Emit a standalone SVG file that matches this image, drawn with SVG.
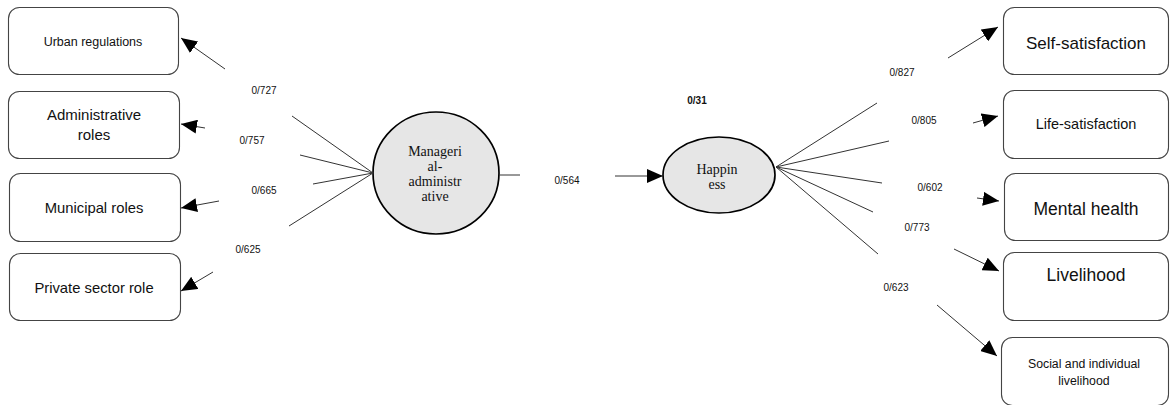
<svg xmlns="http://www.w3.org/2000/svg" width="1170" height="405" viewBox="0 0 1170 405">
<style>
.box{fill:#fff;stroke:#444;stroke-width:1.1}
.bt{font-family:"Liberation Sans",Arial,sans-serif;fill:#111;text-anchor:middle}
.lbl{font-family:"Liberation Sans",Arial,sans-serif;font-size:10px;fill:#111;text-anchor:middle}
.st{font-family:"Liberation Serif","Times New Roman",serif;font-size:14px;fill:#111;text-anchor:middle}
.ln{stroke:#333;stroke-width:1;fill:none}
.ar{stroke:#333;stroke-width:1;fill:none;marker-end:url(#ah)}
.ell{fill:#e6e6e6;stroke:#000;stroke-width:1.7}
</style>
<defs>
<marker id="ah" markerUnits="userSpaceOnUse" markerWidth="18" markerHeight="14" refX="16" refY="7" orient="auto">
<path d="M0,0 L16,7 L0,14 Z" fill="#000"/>
</marker>
</defs>
<rect width="1170" height="405" fill="#fff"/>
<g id="n-urban"><rect class="box" x="8.5" y="7.5" width="170" height="67" rx="11"/><text class="bt" x="93" y="46" font-size="12.5">Urban regulations</text></g>
<g id="n-admin"><rect class="box" x="8.5" y="91.5" width="171" height="67" rx="11"/><text class="bt" x="94" y="120" font-size="15">Administrative</text><text class="bt" x="94" y="140" font-size="15">roles</text></g>
<g id="n-municipal"><rect class="box" x="9.5" y="173.5" width="171" height="68" rx="11"/><text class="bt" x="94" y="213" font-size="14.8">Municipal roles</text></g>
<g id="n-private"><rect class="box" x="9.5" y="253.5" width="171" height="67" rx="11"/><text class="bt" x="94" y="293" font-size="14.8">Private sector role</text></g>
<g id="n-managerial"><ellipse class="ell" cx="436" cy="173" rx="63" ry="61"/><text class="st" x="435" y="156">Manageri</text><text class="st" x="435" y="171">al-</text><text class="st" x="435" y="186">administr</text><text class="st" x="435" y="201">ative</text></g>
<g id="n-happiness"><ellipse class="ell" cx="719" cy="175" rx="56" ry="38"/><text class="st" x="717" y="174">Happin</text><text class="st" x="717" y="189">ess</text></g>
<g id="n-self"><rect class="box" x="1003.5" y="7.5" width="165" height="67" rx="11"/><text class="bt" x="1086" y="49" font-size="17">Self-satisfaction</text></g>
<g id="n-life"><rect class="box" x="1003.5" y="90.5" width="165" height="68" rx="11"/><text class="bt" x="1086" y="129" font-size="14.5">Life-satisfaction</text></g>
<g id="n-mental"><rect class="box" x="1004.5" y="173.5" width="164" height="67" rx="11"/><text class="bt" x="1086" y="215" font-size="17.5">Mental health</text></g>
<g id="n-livelihood"><rect class="box" x="1003.5" y="252.5" width="165" height="68" rx="11"/><text class="bt" x="1086" y="281" font-size="17.5">Livelihood</text></g>
<g id="n-social"><rect class="box" x="1001.5" y="337.5" width="167" height="68" rx="11"/><text class="bt" x="1084" y="368" font-size="12.3">Social and individual</text><text class="bt" x="1084" y="385" font-size="12.3">livelihood</text></g>
<g id="connectors">
<line class="ln" x1="373" y1="173" x2="292" y2="116"/>
<line class="ln" x1="373" y1="173" x2="300" y2="155"/>
<line class="ln" x1="373" y1="173" x2="313" y2="184"/>
<line class="ln" x1="373" y1="173" x2="289" y2="226"/>
<line class="ar" x1="225" y1="69" x2="181" y2="38"/>
<line class="ar" x1="205" y1="128" x2="181" y2="124"/>
<line class="ar" x1="219" y1="201" x2="181" y2="208"/>
<line class="ar" x1="213" y1="272" x2="181" y2="291"/>
<line class="ln" x1="499" y1="175" x2="520" y2="175"/>
<line class="ar" x1="615" y1="176" x2="663" y2="176"/>
<line class="ln" x1="776" y1="167" x2="877" y2="103"/>
<line class="ln" x1="776" y1="167" x2="889" y2="141"/>
<line class="ln" x1="776" y1="167" x2="882" y2="183"/>
<line class="ln" x1="776" y1="167" x2="873" y2="212"/>
<line class="ln" x1="776" y1="167" x2="878" y2="254"/>
<line class="ar" x1="948" y1="58" x2="998" y2="27"/>
<line class="ar" x1="973" y1="123" x2="998" y2="116"/>
<line class="ar" x1="977" y1="198" x2="999" y2="201"/>
<line class="ar" x1="954" y1="249" x2="999" y2="271"/>
<line class="ar" x1="937" y1="305" x2="997" y2="356"/>
<text class="lbl" x="264" y="94">0/727</text>
<text class="lbl" x="252" y="144">0/757</text>
<text class="lbl" x="264" y="194">0/665</text>
<text class="lbl" x="248" y="253">0/625</text>
<text class="lbl" x="567" y="184">0/564</text>
<text class="lbl" x="697" y="104" font-weight="bold" font-size="10.5">0/31</text>
<text class="lbl" x="902" y="76">0/827</text>
<text class="lbl" x="924" y="124">0/805</text>
<text class="lbl" x="930" y="191">0/602</text>
<text class="lbl" x="917" y="231">0/773</text>
<text class="lbl" x="896" y="291">0/623</text>
</g>
</svg>
